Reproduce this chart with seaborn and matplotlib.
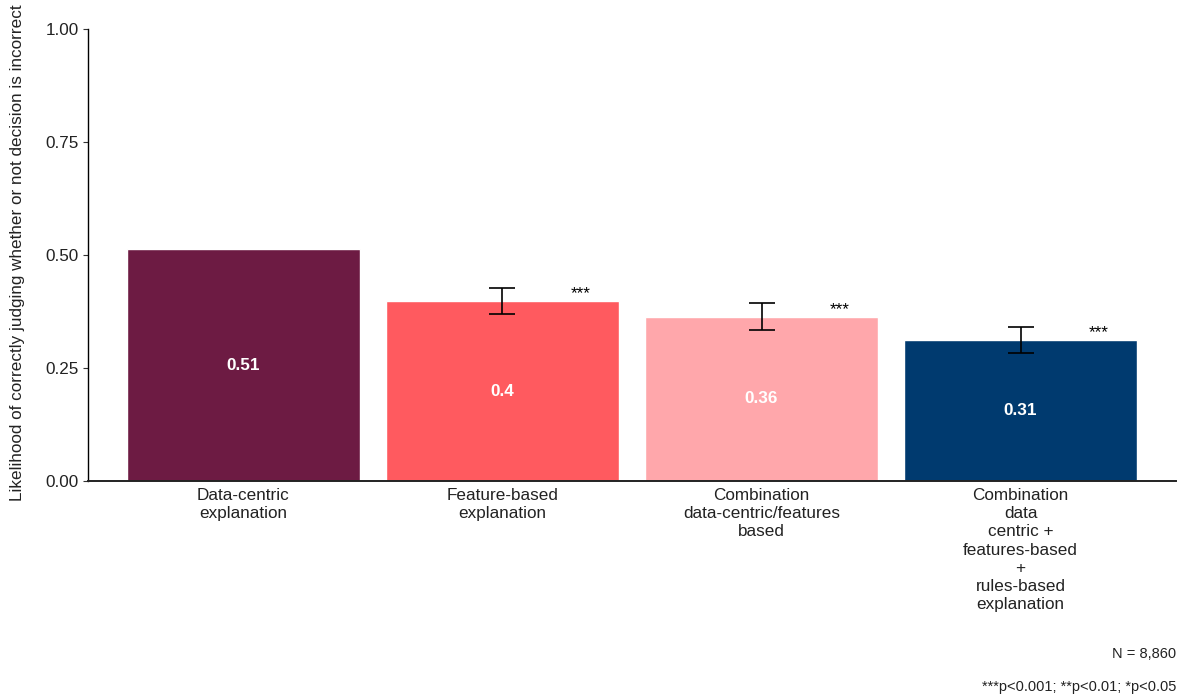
import matplotlib
matplotlib.use("Agg")
import matplotlib.pyplot as plt
import seaborn as sns
import pandas as pd

categories = [
    "Data-centric\nexplanation",
    "Feature-based\nexplanation",
    "Combination\ndata-centric/features\nbased",
    "Combination\ndata\ncentric +\nfeatures-based\n+\nrules-based\nexplanation",
]
values = [0.513, 0.398, 0.364, 0.313]
value_labels = ["0.51", "0.4", "0.36", "0.31"]
err_low = [None, 0.369, 0.335, 0.284]
err_high = [None, 0.427, 0.394, 0.342]
stars = ["", "***", "***", "***"]
colors = ["#6D1B43", "#FF5A5F", "#FFA7AB", "#003A6F"]
yticks = [0.0, 0.25, 0.5, 0.75, 1.0]

sns.set_theme(style="white")
plt.rcParams["font.family"] = ["Liberation Sans", "DejaVu Sans"]

df = pd.DataFrame({"cat": categories, "val": values})

fig = plt.figure(figsize=(11.79, 6.97), dpi=100)
ax = fig.add_axes([88 / 1179, 1 - 481 / 697, (1176 - 88) / 1179, (481 - 29.3) / 697])

sns.barplot(data=df, x="cat", y="val", hue="cat", palette=colors, order=categories,
            hue_order=categories, legend=False, width=0.9, saturation=1, ax=ax,
            errorbar=None)

fs = 12.3
for i, p in enumerate(ax.patches):
    cx = p.get_x() + p.get_width() / 2
    h = p.get_height()
    ax.text(cx, h / 2, value_labels[i], ha="center", va="center", color="white",
            fontweight="bold", fontsize=fs)
    if err_low[i] is not None:
        ax.errorbar([cx], [h], yerr=[[h - err_low[i]], [err_high[i] - h]], fmt="none",
                    ecolor="black", elinewidth=1.2, capsize=9.5, capthick=1.2, zorder=5)
    if stars[i]:
        ax.text(cx + 0.30, h + 0.006, stars[i], ha="center", va="baseline",
                color="black", fontsize=fs)

ax.set_ylim(0, 1)
ax.set_xlim(-0.6, 3.6)
ax.set_yticks(yticks)
ax.set_yticklabels([f"{t:.2f}" for t in yticks])
ax.set_xlabel("")
ax.set_ylabel("Likelihood of correctly judging whether or not decision is incorrect",
              fontsize=fs, color="#222222")
ax.yaxis.set_label_coords(-0.058, 0.505)

for lab in ax.get_xticklabels():
    lab.set_linespacing(1.27)

ax.tick_params(axis="y", which="both", left=True, length=3.5, width=0.8, color="#333333",
               labelsize=fs, labelcolor="#222222", pad=3)
ax.tick_params(axis="x", which="both", bottom=False, length=0, labelsize=fs,
               labelcolor="#222222", pad=5)

sns.despine(ax=ax, top=True, right=True)
ax.spines["left"].set_color("black")
ax.spines["left"].set_linewidth(1.0)
ax.spines["bottom"].set_color("#222222")
ax.spines["bottom"].set_linewidth(1.4)

fig.text(1176 / 1179, 1 - 654 / 697, "N = 8,860", ha="right", va="center",
         fontsize=10.5, color="#222222")
fig.text(1176 / 1179, 1 - 687 / 697, "***p<0.001; **p<0.01; *p<0.05", ha="right",
         va="center", fontsize=10.5, color="#222222")

fig.savefig("out.png", dpi=100)
